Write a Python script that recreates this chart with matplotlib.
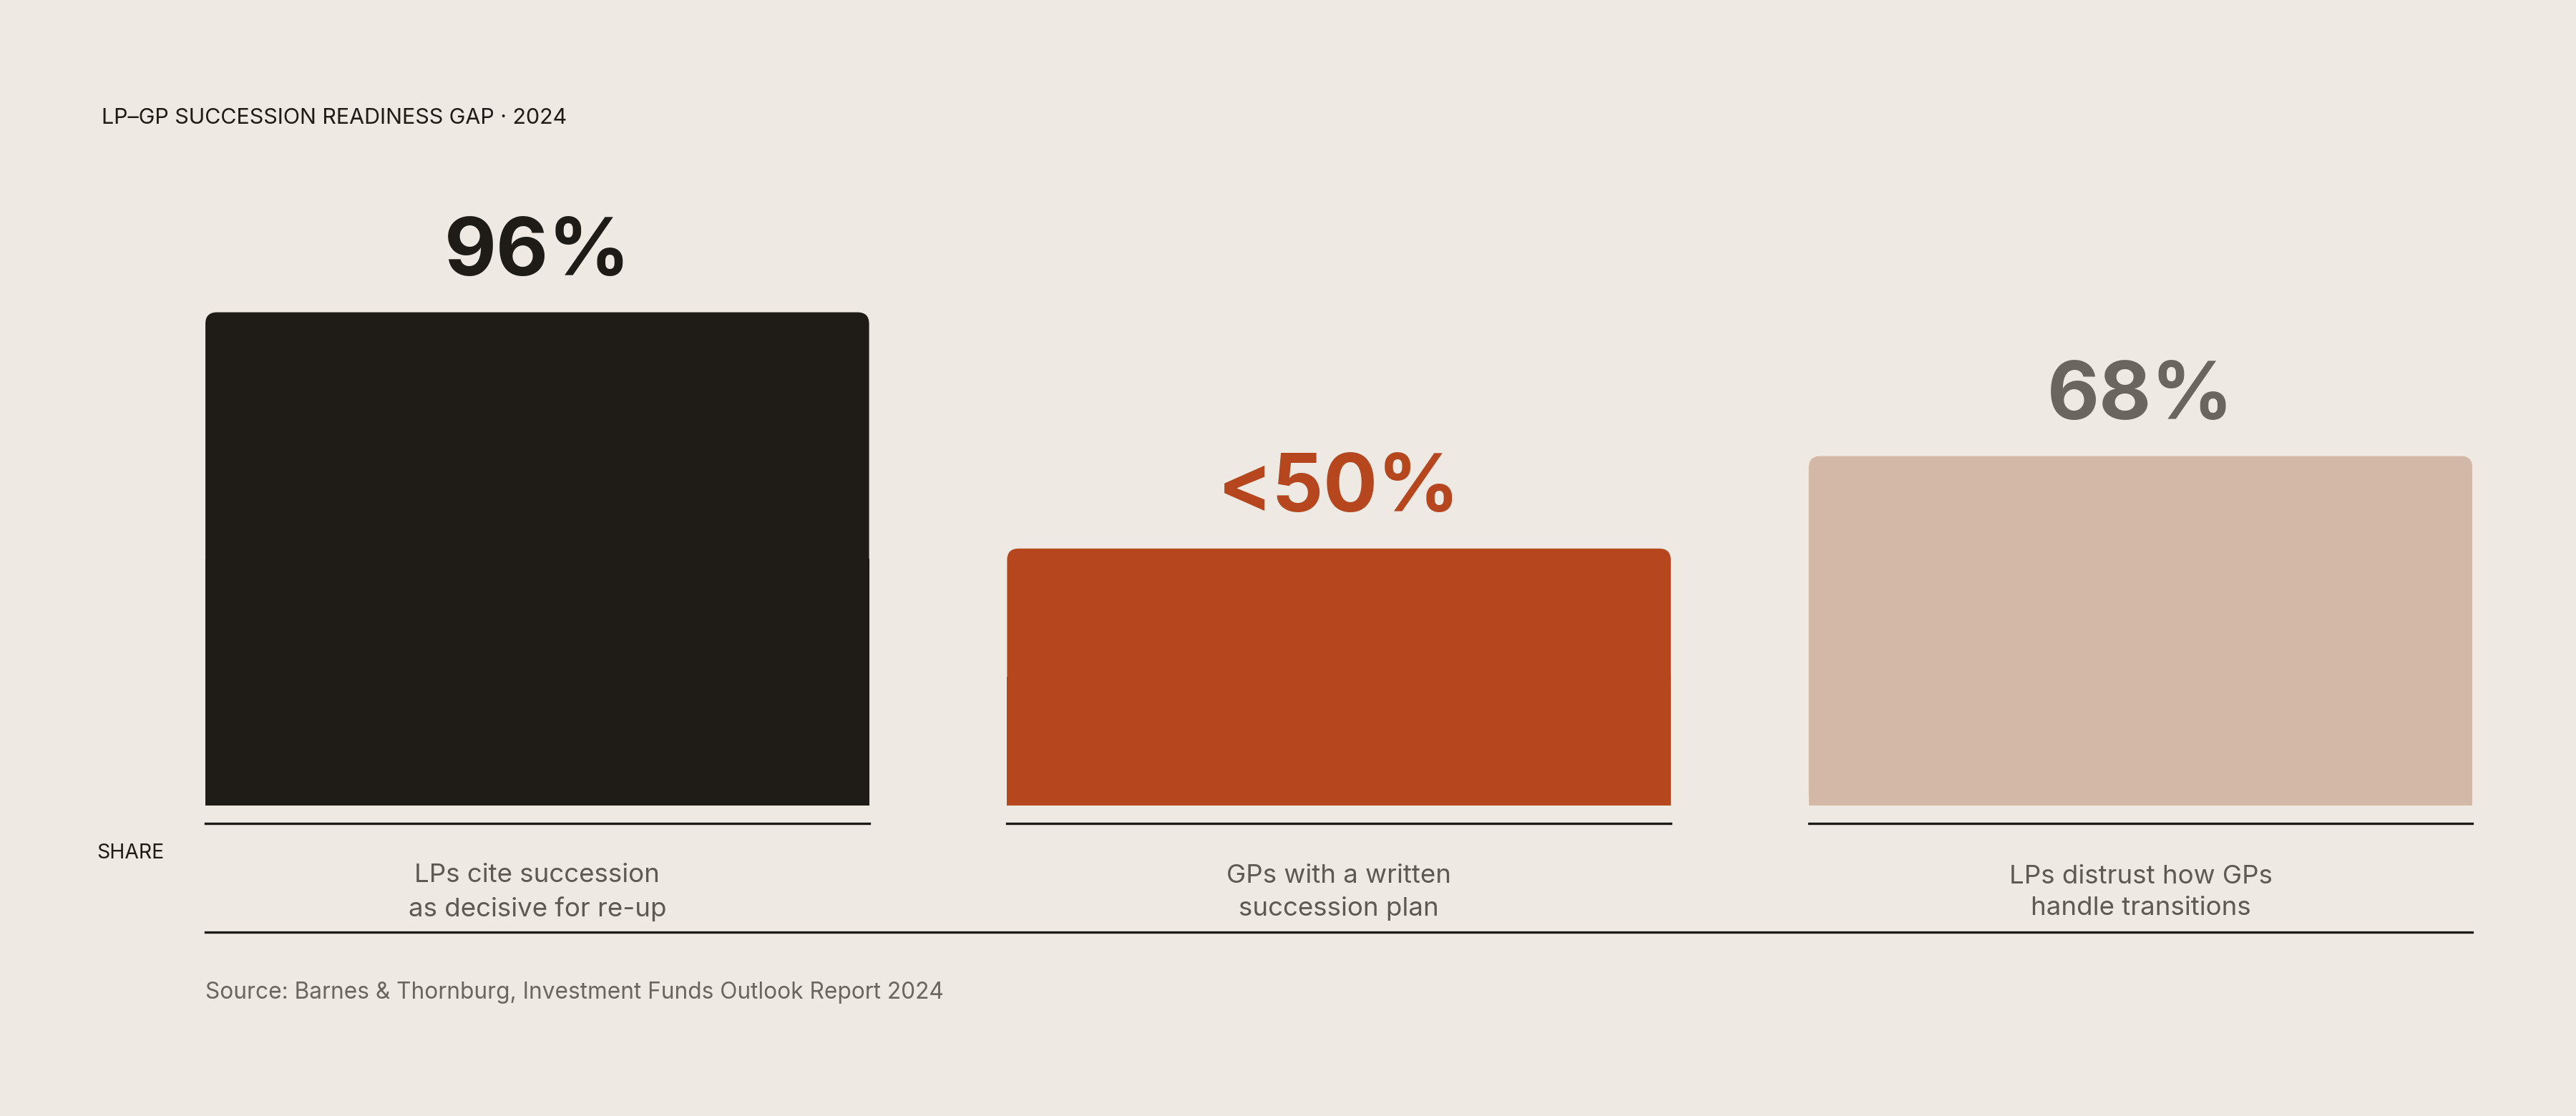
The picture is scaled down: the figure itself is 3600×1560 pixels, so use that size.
import matplotlib.pyplot as plt
from matplotlib.patches import FancyBboxPatch, Rectangle

plt.rcParams['font.family'] = ['Inter', 'DejaVu Sans']

categories = ['LPs cite succession\nas decisive for re-up',
              'GPs with a written\nsuccession plan',
              'LPs distrust how GPs\nhandle transitions']
values = [96, 50, 68]
value_labels = ['96%', '<50%', '68%']
bar_colors = ['#1F1B16', '#B5461D', '#D3B8A8']
label_colors = ['#1F1B16', '#B5461D', '#6B6560']

BG = '#EEE9E2'
fig = plt.figure(figsize=(12, 5.2), dpi=300, facecolor=BG)

W = 1568.0
H = 679.0
ax = fig.add_axes([125 / W, 1 - 490 / H, (1505 - 125) / W, 312.5 / H])
ax.set_facecolor(BG)
ax.set_xlim(-0.414, 2.414)
ax.set_ylim(0, 100)
ax.axis('off')

width = 404 / 488
rx = 7 / 488
ry = 7 / 3.125
for i, (v, c) in enumerate(zip(values, bar_colors)):
    x0 = i - width / 2
    ax.add_patch(FancyBboxPatch((x0, 0), width, v,
                                boxstyle=f'round,pad=0,rounding_size={rx}',
                                mutation_aspect=ry / rx, fc=c, ec='none'))
    ax.add_patch(Rectangle((x0, 0), width, v / 2, fc=c, ec='none'))
    ax.text(i, v + 4, value_labels[i], ha='center', va='bottom',
            fontsize=27, fontweight='bold', color=label_colors[i])

# short rules under each bar
for i in range(len(values)):
    fig.add_artist(plt.Line2D([(125 + 488 * i) / W, (529 + 488 * i) / W],
                              [1 - 501 / H] * 2, color='#1F1B16', lw=0.8))
    fig.text((327 + 488 * i) / W, 1 - 543 / H, categories[i],
             ha='center', va='center', fontsize=8.8, color='#5E5953',
             linespacing=1.45)

fig.add_artist(plt.Line2D([125 / W, 1505 / W], [1 - 567 / H] * 2,
                          color='#1F1B16', lw=0.8))

fig.text(62 / W, 1 - 72 / H, 'LP\u2013GP SUCCESSION READINESS GAP \u00b7 2024',
         ha='left', va='center', fontsize=7.3, color='#1F1B16')
fig.text(59 / W, 1 - 519 / H, 'SHARE', ha='left', va='center',
         fontsize=6.8, color='#1F1B16')
fig.text(125 / W, 1 - 604 / H,
         'Source: Barnes & Thornburg, Investment Funds Outlook Report 2024',
         ha='left', va='center', fontsize=7.6, color='#6B6560')

fig.savefig('out.png', dpi=300, facecolor=BG)
